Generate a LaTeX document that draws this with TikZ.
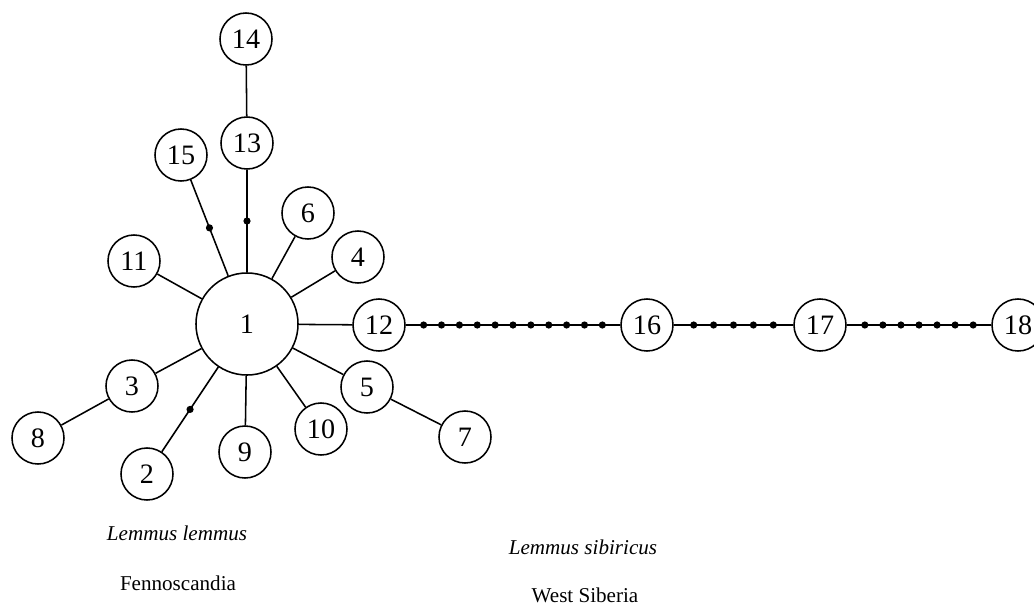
\documentclass[tikz,border=0pt]{standalone}
\usepackage{fontspec}
\setmainfont{Liberation Serif}
\begin{document}
\begin{tikzpicture}[x=0.025cm, y=-0.025cm,
  hap/.style={circle, draw, line width=1.1pt, minimum size=1.3cm, inner sep=0pt, font=\fontsize{20}{24}\selectfont},
  mdot/.style={circle, fill, inner sep=0pt, minimum size=0.18cm},
  link/.style={line width=1.1pt},
  region/.style={font=\fontsize{15}{18}\selectfont}]
\useasboundingbox (0,0) rectangle (1034,606);

\node[hap, minimum size=2.55cm] (h1) at (247, 324) {1}; % hap.1
\node[hap] (h2) at (147, 474) {2}; % hap.2
\node[hap] (h3) at (132, 386) {3}; % hap.3
\node[hap] (h4) at (358, 257) {4}; % hap.4
\node[hap] (h5) at (367, 387) {5}; % hap.5
\node[hap] (h6) at (308, 213) {6}; % hap.6
\node[hap] (h7) at (465, 437) {7}; % hap.7
\node[hap] (h8) at (38, 438) {8}; % hap.8
\node[hap] (h9) at (245, 452) {9}; % hap.9
\node[hap] (h10) at (321, 429) {10}; % hap.10
\node[hap] (h11) at (134, 261) {11}; % hap.11
\node[hap] (h12) at (379, 325) {12}; % hap.12
\node[hap] (h13) at (247, 143) {13}; % hap.13
\node[hap] (h14) at (246, 39) {14}; % hap.14
\node[hap] (h15) at (181, 155) {15}; % hap.15
\node[hap] (h16) at (647, 325) {16}; % hap.16
\node[hap] (h17) at (820, 325) {17}; % hap.17
\node[hap] (h18) at (1018, 325) {18}; % hap.18

\draw[link] (h1) -- (h2) node[mdot, pos=0.5] {}; % one missing step
\draw[link] (h1) -- (h3);
\draw[link] (h1) -- (h4);
\draw[link] (h1) -- (h5);
\draw[link] (h1) -- (h6);
\draw[link] (h1) -- (h9);
\draw[link] (h1) -- (h10);
\draw[link] (h1) -- (h11);
\draw[link] (h1) -- (h12);
\draw[link] (h1) -- (h13) node[mdot, pos=0.5] {};
\draw[link] (h1) -- (h15) node[mdot, pos=0.5] {};
\draw[link] (h3) -- (h8);
\draw[link] (h5) -- (h7);
\draw[link] (h13) -- (h14);
\draw[link] (h12) -- (h16) foreach \k in {1,...,11} {node[mdot, pos=\k/12] {}}; % 11 steps
\draw[link] (h16) -- (h17) foreach \k in {1,...,5} {node[mdot, pos=\k/6] {}}; % 5 steps
\draw[link] (h17) -- (h18) foreach \k in {1,...,7} {node[mdot, pos=\k/8] {}}; % 7 steps

\node[region, font=\itshape\fontsize{15}{18}\selectfont] (sp1) at (177, 533) {Lemmus lemmus};
\node[region] (reg1) at (178, 583) {Fennoscandia};
\node[region, font=\itshape\fontsize{15}{18}\selectfont] (sp2) at (583, 547) {Lemmus sibiricus};
\node[region] (reg2) at (585, 595) {West Siberia};

\end{tikzpicture}
\end{document}
